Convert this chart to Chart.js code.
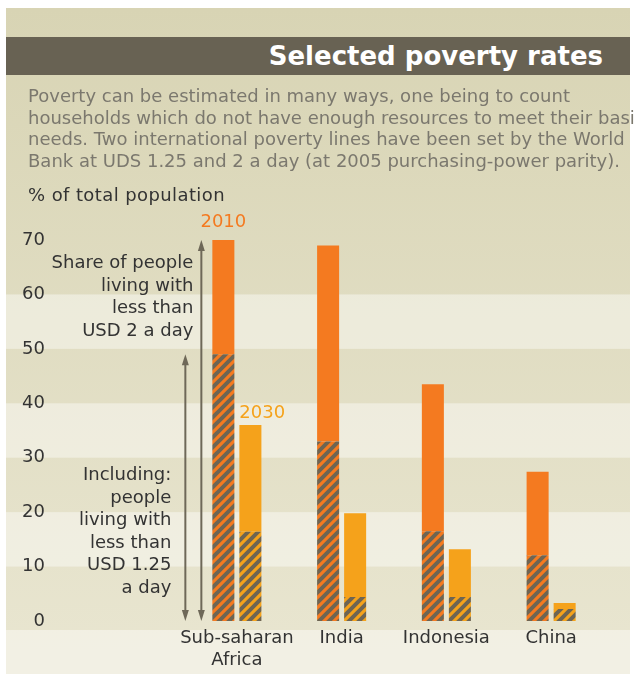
<!DOCTYPE html>
<html>
<head>
<meta charset="utf-8">
<title>Selected poverty rates</title>
<script src="https://cdn.jsdelivr.net/npm/chart.js@4.4.1/dist/chart.umd.min.js"></script>
<style>
  html, body {
    margin: 0;
    padding: 0;
    background: #fff;
  }
  body {
    position: relative;
    width: 635px;
    height: 675px;
    overflow: hidden;
    font-family: "DejaVu Sans", Verdana, sans-serif;
  }
  #panel {
    position: absolute;
    left: 6px;
    top: 8px;
    width: 624px;
    height: 666px;
    background: linear-gradient(#d8d4b4, #e9e6d1);
  }
  #chart {
    position: absolute;
    left: 0;
    top: 0;
  }
  #titlebar {
    position: absolute;
    left: 6px;
    top: 37px;
    width: 624px;
    height: 38px;
    background: #686253;
  }
  #titlebar h1 {
    margin: 0;
    padding-right: 27px;
    text-align: right;
    color: #fff;
    font-size: 26px;
    font-weight: bold;
    line-height: 38px;
  }
  #intro {
    position: absolute;
    left: 28px;
    top: 85px;
    margin: 0;
    color: #7b786e;
    font-size: 18px;
    line-height: 21.7px;
    white-space: nowrap;
  }
  #ytitle {
    position: absolute;
    left: 28px;
    top: 184px;
    color: #333;
    font-size: 18px;
    letter-spacing: 0.4px;
    line-height: 22px;
  }
</style>
</head>
<body>
<div id="panel"></div>
<canvas id="chart" width="635" height="675"></canvas>
<div id="titlebar"><h1>Selected poverty rates</h1></div>
<p id="intro">Poverty can be estimated in many ways, one being to count<br>households which do not have enough resources to meet their basic<br>needs. Two international poverty lines have been set by the World<br>Bank at UDS 1.25 and 2 a day (at 2005 purchasing-power parity).</p>
<div id="ytitle">% of total population</div>

<script>
// % of total population
const countries = [['Sub-saharan', 'Africa'], 'India', 'Indonesia', 'China'];
const under2usd2010 = [70, 69, 43.5, 27.4];
const under125usd2010 = [49, 33, 16.5, 12.1];
const under2usd2030 = [36, 19.8, 13.2, 3.3];
const under125usd2030 = [16.4, 4.4, 4.4, 2.2];

const ORANGE_2010 = '#f47a20';
const ORANGE_2030 = '#f5a21b';
const HATCH = '#6e6553';
const INK = '#333';
const FONT = '"DejaVu Sans", Verdana, sans-serif';

// panel edges, the light bands run across all of it
const PANEL = { left: 6, right: 630, bottom: 674 };
const lightBands = [[50, 60], [30, 40], [10, 20]];

// orange fill with "/" stripes, 10px repeat
function hatchPattern(base) {
    const size = 20;
    const tile = document.createElement('canvas');
    tile.width = tile.height = size;
    const g = tile.getContext('2d');
    g.fillStyle = base;
    g.fillRect(0, 0, size, size);
    g.strokeStyle = HATCH;
    g.lineWidth = 4;
    g.beginPath();
    for (let k = -size; k <= 2 * size; k += 10) {
        g.moveTo(k - 5, size + 5);
        g.lineTo(k + size + 5, -5);
    }
    g.stroke();
    return g.createPattern(tile, 'repeat');
}

const bandsPlugin = {
    id: 'bands',
    beforeDraw(chart) {
        const { ctx, scales: { y } } = chart;
        ctx.save();
        ctx.fillStyle = 'rgba(255, 255, 255, 0.42)';
        const w = PANEL.right - PANEL.left;
        lightBands.forEach(([lo, hi]) => {
            const top = y.getPixelForValue(hi);
            ctx.fillRect(PANEL.left, top, w, y.getPixelForValue(lo) - top);
        });
        // strip under the axis down to the panel edge
        const below = y.getPixelForValue(0) + 9;
        ctx.fillRect(PANEL.left, below, w, PANEL.bottom - below);
        ctx.restore();
    }
};

function drawArrow(ctx, x, yTop, yBottom) {
    ctx.beginPath();
    ctx.moveTo(x, yTop + 6);
    ctx.lineTo(x, yBottom - 6);
    ctx.stroke();
    ctx.beginPath();
    ctx.moveTo(x, yTop);
    ctx.lineTo(x - 3.5, yTop + 11);
    ctx.lineTo(x + 3.5, yTop + 11);
    ctx.closePath();
    ctx.fill();
    ctx.beginPath();
    ctx.moveTo(x, yBottom);
    ctx.lineTo(x - 3.5, yBottom - 11);
    ctx.lineTo(x + 3.5, yBottom - 11);
    ctx.closePath();
    ctx.fill();
}

function drawLines(ctx, lines, x, y0, step) {
    lines.forEach((line, i) => ctx.fillText(line, x, y0 + i * step));
}

const notesPlugin = {
    id: 'notes',
    afterDatasetsDraw(chart) {
        const { ctx, scales: { y } } = chart;
        const bar2010 = chart.getDatasetMeta(1).data[0];
        const bar2030 = chart.getDatasetMeta(3).data[0];
        const left2010 = bar2010.x - bar2010.width / 2;
        const left2030 = bar2030.x - bar2030.width / 2;
        const base = y.getPixelForValue(0);

        ctx.save();
        ctx.strokeStyle = '#6e6858';
        ctx.fillStyle = '#6e6858';
        ctx.lineWidth = 2;
        const xOuter = left2010 - 11;
        const xInner = left2010 - 27;
        drawArrow(ctx, xOuter, y.getPixelForValue(under2usd2010[0]), base);
        drawArrow(ctx, xInner, y.getPixelForValue(under125usd2010[0]), base);

        ctx.font = '18px ' + FONT;
        ctx.fillStyle = INK;
        ctx.textAlign = 'right';
        ctx.textBaseline = 'alphabetic';
        drawLines(ctx, ['Share of people', 'living with', 'less than', 'USD 2 a day'],
            xOuter - 8, y.getPixelForValue(under2usd2010[0]) + 28, 22.5);
        drawLines(ctx, ['Including:', 'people', 'living with', 'less than', 'USD 1.25', 'a day'],
            xInner - 14, base - 141, 22.5);

        // year tags over the first pair of bars
        ctx.fillStyle = ORANGE_2010;
        ctx.textAlign = 'center';
        ctx.fillText('2010', bar2010.x, y.getPixelForValue(under2usd2010[0]) - 13);
        ctx.fillStyle = ORANGE_2030;
        ctx.textAlign = 'left';
        ctx.fillText('2030', left2030, y.getPixelForValue(under2usd2030[0]) - 7);
        ctx.restore();
    }
};

new Chart(document.getElementById('chart'), {
    type: 'bar',
    data: {
        labels: countries,
        datasets: [
            {
                label: '2010, less than USD 1.25',
                data: under125usd2010,
                stack: '2010',
                backgroundColor: hatchPattern(ORANGE_2010)
            },
            {
                label: '2010, less than USD 2',
                data: under2usd2010.map((v, i) => v - under125usd2010[i]),
                stack: '2010',
                backgroundColor: ORANGE_2010
            },
            {
                label: '2030, less than USD 1.25',
                data: under125usd2030,
                stack: '2030',
                backgroundColor: hatchPattern(ORANGE_2030)
            },
            {
                label: '2030, less than USD 2',
                data: under2usd2030.map((v, i) => v - under125usd2030[i]),
                stack: '2030',
                backgroundColor: ORANGE_2030
            }
        ]
    },
    options: {
        responsive: false,
        animation: false,
        categoryPercentage: 0.516,
        barPercentage: 0.815,
        layout: {
            padding: { top: 240, left: 0, right: 31.5, bottom: 0 }
        },
        plugins: {
            legend: { display: false },
            tooltip: { enabled: false }
        },
        scales: {
            x: {
                stacked: true,
                grid: { display: false, drawTicks: false },
                border: { display: false },
                ticks: {
                    color: INK,
                    padding: 7,
                    autoSkip: false,
                    maxRotation: 0,
                    font: { family: FONT, size: 18, lineHeight: 1.2 }
                },
                afterFit: (scale) => { scale.height = 54; }
            },
            y: {
                stacked: true,
                min: 0,
                max: 70,
                grid: { display: false, drawTicks: false },
                border: { display: false },
                ticks: {
                    stepSize: 10,
                    color: INK,
                    padding: 139.5,
                    font: { family: FONT, size: 18 }
                },
                afterFit: (scale) => {
                    // the wide label gap should not eat into the plot height
                    scale.width = 184.5;
                    scale.paddingTop = 12;
                    scale.paddingBottom = 12;
                }
            }
        }
    },
    plugins: [bandsPlugin, notesPlugin]
});
</script>
</body>
</html>
